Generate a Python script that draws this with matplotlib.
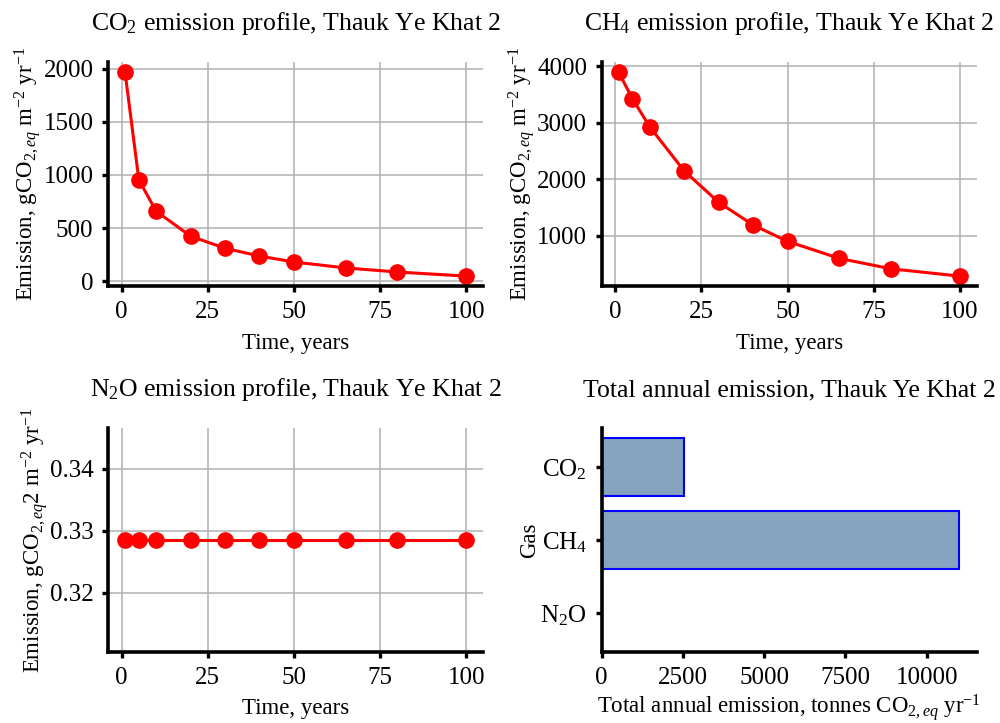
import numpy as np
import matplotlib
matplotlib.use("Agg")
import matplotlib.pyplot as plt

# --- data ---
years = [1, 5, 10, 20, 30, 40, 50, 65, 80, 100]
co2 = [1965, 955, 660, 425, 311, 238, 182, 126, 88, 49]
ch4 = [3893, 3426, 2929, 2148, 1592, 1189, 900, 598, 414, 284]
n2o = [0.3285] * len(years)

gases = ["CO$_2$", "CH$_4$", "N$_2$O"]
totals = [2547, 10995, 1.2]

reservoir = "Thauk Ye Khat 2"

# --- style ---
plt.rcParams["font.family"] = ["Liberation Serif", "DejaVu Serif"]
plt.rcParams["mathtext.fontset"] = "custom"
plt.rcParams["mathtext.rm"] = "Liberation Serif"
plt.rcParams["mathtext.it"] = "Liberation Serif:italic"
plt.rcParams["font.size"] = 16.5

LINE = dict(color="red", linewidth=2.2, marker="o", markersize=11)
TITLE = dict(fontsize=18.5, pad=23)


def style_axes(ax, grid=True):
    for s in ("top", "right"):
        ax.spines[s].set_visible(False)
    for s in ("left", "bottom"):
        ax.spines[s].set_linewidth(2.6)
    ax.tick_params(width=2.4, length=4.5, labelsize=18, pad=6)
    ax.xaxis.labelpad = 7
    ax.yaxis.labelpad = 0
    if grid:
        ax.grid(True, color="#b0b0b0", linewidth=1.1)
        ax.set_axisbelow(True)


fig, axes = plt.subplots(2, 2, figsize=(10, 7.23), dpi=100)
fig.subplots_adjust(left=0.108, right=0.977, bottom=0.098, top=0.914,
                    wspace=0.315, hspace=0.632)

ylab = r"Emission, gCO$_{2,eq}$ m$^{-2}$ yr$^{-1}$"

ax = axes[0, 0]
ax.plot(years, co2, **LINE)
ax.set_yticks([0, 500, 1000, 1500, 2000])
ax.set_title(f"CO$_2$ emission profile, {reservoir}", **TITLE)
ax.set_xlabel("Time, years")
ax.set_ylabel(ylab)
style_axes(ax)

ax = axes[0, 1]
ax.plot(years, ch4, **LINE)
ax.set_yticks([1000, 2000, 3000, 4000])
ax.set_title(f"CH$_4$ emission profile, {reservoir}", **TITLE)
ax.set_xlabel("Time, years")
ax.set_ylabel(ylab)
style_axes(ax)

ax = axes[1, 0]
ax.plot(years, n2o, **LINE)
ax.set_yticks([0.32, 0.33, 0.34])
ax.set_title(f"N$_2$O emission profile, {reservoir}", **TITLE)
ax.set_xlabel("Time, years")
ax.set_ylabel(r"Emission, gCO$_{2,eq}$2 m$^{-2}$ yr$^{-1}$")
style_axes(ax)

for ax in (axes[0, 0], axes[0, 1], axes[1, 0]):
    ax.set_xticks([0, 25, 50, 75, 100])

ax = axes[1, 1]
ax.barh(np.arange(len(gases)), totals, height=0.8, color="#86a3bf",
        edgecolor="blue", linewidth=1.5)
ax.set_yticks(np.arange(len(gases)))
ax.set_yticklabels(gases)
ax.invert_yaxis()
ax.set_xticks([0, 2500, 5000, 7500, 10000])
ax.set_title(f"Total annual emission, {reservoir}", **TITLE)
ax.set_xlabel(r"Total annual emission, tonnes CO$_{2,eq}$ yr$^{-1}$")
ax.set_ylabel("Gas")
style_axes(ax, grid=False)
ax.xaxis.labelpad = 2

fig.savefig("out.png", dpi=100)
